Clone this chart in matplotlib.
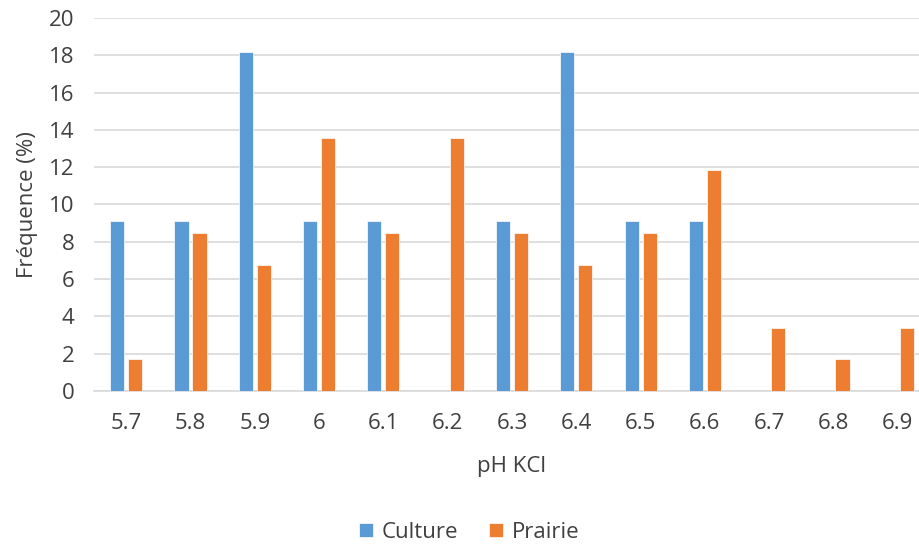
import numpy as np
import matplotlib.pyplot as plt

plt.rcParams["font.family"] = ["Open Sans", "DejaVu Sans"]

ph_labels = ["5.7", "5.8", "5.9", "6", "6.1", "6.2", "6.3", "6.4", "6.5", "6.6", "6.7", "6.8", "6.9"]
culture = [9.09, 9.09, 18.18, 9.09, 9.09, 0, 9.09, 18.18, 9.09, 9.09, 0, 0, 0]
prairie = [1.69, 8.47, 6.78, 13.56, 8.47, 13.56, 8.47, 6.78, 8.47, 11.86, 3.39, 1.69, 3.39]

BLUE = "#5B9BD5"
ORANGE = "#ED7D31"
GRID = "#D9D9D9"
TEXT = "#404040"


def main():
    fig = plt.figure(figsize=(9.2, 5.44), dpi=100)
    # axes run slightly past the right edge, as in the clipped original
    ax = fig.add_axes([94 / 920, 1 - 391 / 544, 836 / 920, 373 / 544])

    x = np.arange(len(ph_labels))
    w = 0.22
    ax.bar(x - 0.14, culture, w, color=BLUE, edgecolor="white", linewidth=0.5, label="Culture", zorder=3)
    ax.bar(x + 0.14, prairie, w, color=ORANGE, edgecolor="white", linewidth=0.5, label="Prairie", zorder=3)

    ax.set_xlim(-0.5, len(ph_labels) - 0.5)
    ax.set_ylim(0, 20)
    ax.set_yticks(range(0, 21, 2))
    ax.set_xticks(x)
    ax.set_xticklabels(ph_labels)

    ax.grid(axis="y", color=GRID, linewidth=1.2, zorder=0)
    for side in ["top", "right", "left"]:
        ax.spines[side].set_visible(False)
    ax.spines["bottom"].set_color(GRID)
    ax.spines["bottom"].set_linewidth(1.2)

    ax.tick_params(axis="both", length=0, labelsize=16, colors=TEXT)
    ax.tick_params(axis="x", pad=16)
    ax.tick_params(axis="y", pad=14)

    ax.set_xlabel("pH KCl", fontsize=16, color=TEXT, labelpad=16)
    ax.set_ylabel("Fréquence (%)", fontsize=16, color=TEXT, labelpad=8)

    fig.legend(loc="lower center", bbox_to_anchor=(0.51, -0.035), ncol=2, frameon=False,
               fontsize=16, labelcolor=TEXT, handlelength=0.6, handleheight=0.6,
               handletextpad=0.4, columnspacing=1.4)

    fig.savefig("out.png", dpi=100)
    plt.close(fig)


if __name__ == "__main__":
    main()
